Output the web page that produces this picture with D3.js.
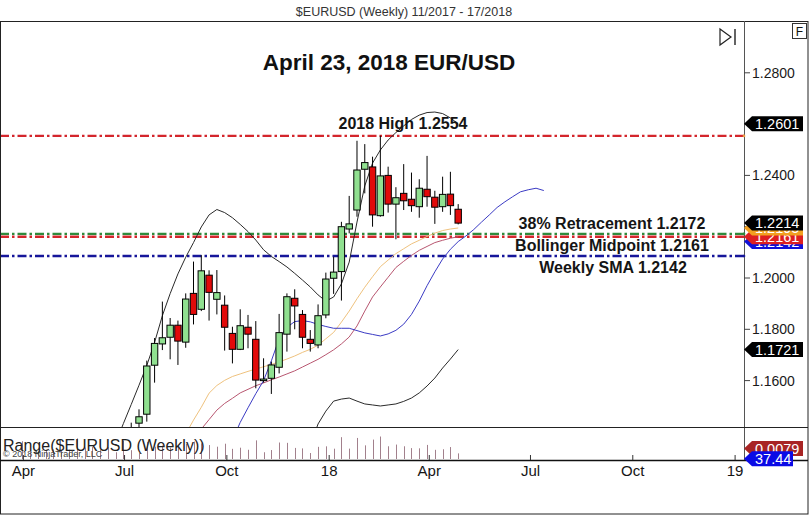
<!DOCTYPE html>
<html><head><meta charset="utf-8">
<script src="https://cdn.jsdelivr.net/npm/d3@7"></script>
<style>
body{margin:0;background:#fff;}
svg{display:block;font-family:"Liberation Sans",Arial,sans-serif;}
</style>
</head><body>
<svg id="c" width="810" height="515"></svg>
<script>
// ---------- DATA ----------
const firstWeek = "2017-07-07";           // week-ending date of the first candle
const opens  = [1.1405,1.1434,1.1469,1.1660,1.1743,1.1769,1.1816,1.1750,1.1940,1.1878,1.2011,1.1917,1.1894,1.1784,1.1722,1.1808,1.1761,1.1600,1.1609,1.1652,1.1781,1.1921,1.1858,1.1761,1.1739,1.1856,1.1999,1.2025,1.2191,1.2265,1.2424,1.2433,1.2243,1.2400,1.2288,1.2330,1.2307,1.2278,1.2346,1.2315,1.2278,1.2327,1.2268];
const highs  = [1.1436,1.1488,1.1678,1.1766,1.1908,1.1844,1.1834,1.1940,1.2064,1.2089,1.2030,1.2031,1.1932,1.1810,1.1878,1.1856,1.1832,1.1687,1.1674,1.1860,1.1940,1.1956,1.1875,1.1797,1.1897,1.2021,1.2083,1.2219,1.2320,1.2535,1.2522,1.2473,1.2555,1.2434,1.2354,1.2444,1.2411,1.2385,1.2476,1.2340,1.2395,1.2414,1.2288];
const lows   = [1.1312,1.1405,1.1440,1.1592,1.1719,1.1683,1.1661,1.1728,1.1819,1.1871,1.1834,1.1858,1.1717,1.1667,1.1719,1.1726,1.1570,1.1592,1.1548,1.1628,1.1713,1.1800,1.1726,1.1713,1.1726,1.1843,1.1938,1.1912,1.2174,1.2239,1.2330,1.2200,1.2239,1.2255,1.2151,1.2265,1.2258,1.2235,1.2278,1.2211,1.2258,1.2246,1.2209];
const closes = [1.1398,1.1459,1.1657,1.1745,1.1767,1.1816,1.1754,1.1918,1.1858,1.2028,1.1944,1.1943,1.1808,1.1722,1.1814,1.1781,1.1602,1.1606,1.1661,1.1787,1.1927,1.1891,1.1769,1.1745,1.1853,1.1996,1.2023,1.2200,1.2211,1.2421,1.2450,1.2246,1.2398,1.2288,1.2313,1.2301,1.2282,1.2350,1.2317,1.2276,1.2326,1.2282,1.2214];

// indicator series (index of first value relative to first candle)
const upperStart = -2;
const upperBand = [1.1357,1.1433,1.1507,1.1582,1.1659,1.1749,1.1853,1.1939,1.2016,1.2081,1.2138,1.2199,1.2246,1.2267,1.2255,1.2235,1.2209,1.2181,1.2148,1.2110,1.2084,1.2064,1.2043,1.2018,1.1992,1.1965,1.1934,1.1910,1.1926,1.1977,1.2062,1.2218,1.2359,1.2448,1.2499,1.2538,1.2567,1.2593,1.2618,1.2635,1.2645,1.2647,1.2641,1.2624,1.2601];
const lowerStart = 23;
const lowerBand = [1.1349,1.1431,1.1481,1.1520,1.1528,1.1532,1.1520,1.1509,1.1505,1.1501,1.1505,1.1509,1.1519,1.1532,1.1552,1.1579,1.1610,1.1649,1.1684,1.1721];
const midStart = 9;
const midBand = [1.1411,1.1448,1.1485,1.1511,1.1531,1.1552,1.1566,1.1580,1.1591,1.1603,1.1614,1.1626,1.1638,1.1653,1.1668,1.1683,1.1701,1.1720,1.1743,1.1770,1.1813,1.1871,1.1926,1.1965,1.2003,1.2041,1.2065,1.2088,1.2108,1.2123,1.2138,1.2147,1.2155,1.2161];
const tanStart = 7;
const tanSma = [1.1392,1.1446,1.1496,1.1551,1.1581,1.1601,1.1616,1.1626,1.1636,1.1645,1.1654,1.1663,1.1673,1.1684,1.1696,1.1710,1.1722,1.1738,1.1763,1.1788,1.1828,1.1871,1.1919,1.1964,1.2005,1.2044,1.2070,1.2095,1.2114,1.2133,1.2147,1.2162,1.2175,1.2185,1.2191,1.2195];
const blueStart = 13;
const blueSma = [1.1368,1.1437,1.1494,1.1549,1.1600,1.1677,1.1763,1.1808,1.1830,1.1834,1.1829,1.1819,1.1811,1.1804,1.1804,1.1804,1.1795,1.1786,1.1780,1.1774,1.1782,1.1796,1.1820,1.1858,1.1910,1.1970,1.2024,1.2074,1.2112,1.2142,1.2164,1.2189,1.2218,1.2246,1.2275,1.2297,1.2317,1.2336,1.2344,1.2350,1.2341];

// weekly range (high-low) of the weeks before the first visible candle
const earlyRangeStart = -14;
const earlyRange = [0.0250,0.0105,0.0110,0.0130,0.0135,0.0125,0.0130,0.0290,0.0160,0.0170,0.0125,0.0165,0.0095,0.0255];

// horizontal levels and annotations
const levelValues = [1.2554, 1.2172, 1.2161, 1.2086];
const levelNames  = ["high", "retr", "boll", "sma"];
const noteTexts   = ["2018 High 1.2554", "38% Retracement 1.2172", "Bollinger Midpoint 1.2161", "Weekly SMA 1.2142"];
const yTicks = [1.16, 1.18, 1.20, 1.22, 1.24, 1.26, 1.28];
const yTickLabels = [1.16, 1.18, 1.20, 1.24, 1.28];   // 1.22 and 1.26 are hidden by price tags
const otherIndicatorLabel = "37.44";
const chartTitle = "$EURUSD (Weekly)  11/2017 - 17/2018";
const mainTitle = "April 23, 2018 EUR/USD";

// ---------- SETUP ----------
const svg = d3.select("#c");
const PR = 744, TOP = 21, MB = 427, LB = 459, AX = 460;
const week0 = d3.utcParse("%Y-%m-%d")(firstWeek);
const wk = i => d3.utcDay.offset(week0, 7 * i);

const x = d3.scaleUtc().domain([new Date(Date.UTC(2017,2,11)), new Date(Date.UTC(2019,0,9))]).range([0, PR]);
const y = d3.scaleLinear().domain([1.16, 1.28]).range([380.6, 72.8]);
const yr = d3.scaleLinear().domain([0, 0.045]).range([LB, 427]);

const defs = svg.append("defs");
defs.append("clipPath").attr("id","mainClip").append("rect").attr("x",1).attr("y",TOP).attr("width",PR-1).attr("height",MB-TOP);

svg.append("rect").attr("width",810).attr("height",515).attr("fill","#fff");

// title
svg.append("text").attr("x",404).attr("y",16).attr("text-anchor","middle")
  .attr("font-size",12.5).attr("fill","#333").text(chartTitle);

const main = svg.append("g").attr("clip-path","url(#mainClip)");

// horizontal levels
const levelColor = {high:"#d4262c", retr:"#2f8a3c", boll:"#d4262c", sma:"#16169a"};
main.selectAll("line.level").data(levelValues).join("line")
  .attr("x1",0).attr("x2",PR).attr("y1",d=>y(d)).attr("y2",d=>y(d))
  .attr("stroke",(d,i)=>levelColor[levelNames[i]]).attr("stroke-width",2.4)
  .attr("stroke-dasharray","9,3,2.5,3");

// indicator lines
function series(vals, start){ return vals.map((v,k)=>({d:wk(start+k), v})); }
const line = d3.line().x(p=>x(p.d)).y(p=>y(p.v));
const indic = [
  {vals:tanSma, start:tanStart, color:"#efc27e"},
  {vals:midBand, start:midStart, color:"#b85670"},
  {vals:blueSma, start:blueStart, color:"#3b3bc4"},
  {vals:upperBand, start:upperStart, color:"#2a2a2a"},
  {vals:lowerBand, start:lowerStart, color:"#2a2a2a"}
];
indic.forEach(s=>{
  main.append("path").attr("d", line(series(s.vals, s.start)))
    .attr("fill","none").attr("stroke",s.color).attr("stroke-width",1);
});

// candles
const candles = opens.map((o,i)=>({d:wk(i), o, h:highs[i], l:lows[i], c:closes[i]}));
const bw = 6.4;
const cg = main.selectAll("g.candle").data(candles).join("g");
cg.append("line").attr("x1",c=>x(c.d)).attr("x2",c=>x(c.d))
  .attr("y1",c=>y(c.h)).attr("y2",c=>y(c.l)).attr("stroke","#000").attr("stroke-width",1);
cg.append("rect").attr("x",c=>x(c.d)-bw/2).attr("width",bw)
  .attr("y",c=>y(Math.max(c.o,c.c))).attr("height",c=>Math.max(1,Math.abs(y(c.o)-y(c.c))))
  .attr("fill",c=>c.c>=c.o?"#90e090":"#e20a0a").attr("stroke","#000").attr("stroke-width",1);

// main title & notes
svg.append("text").attr("x",389).attr("y",70).attr("text-anchor","middle")
  .attr("font-size",22.5).attr("font-weight","bold").attr("fill","#111").text(mainTitle);
const notePos = [
  {x:403, dy:-7},
  {x:612, dy:-5},
  {x:612, dy:14},
  {x:613, dy:17}
];
noteTexts.forEach((t,i)=>{
  svg.append("text").attr("x",notePos[i].x).attr("y",y(levelValues[i])+notePos[i].dy)
    .attr("text-anchor","middle").attr("font-size",16).attr("font-weight","bold")
    .attr("fill","#151515").text(t);
});

// frame
svg.append("rect").attr("x",0.5).attr("y",TOP+0.5).attr("width",807.5).attr("height",492.5)
  .attr("fill","none").attr("stroke","#222").attr("stroke-width",1);
svg.append("line").attr("x1",PR+0.5).attr("x2",PR+0.5).attr("y1",TOP).attr("y2",AX).attr("stroke","#555");
svg.append("line").attr("x1",0).attr("x2",808).attr("y1",MB+0.5).attr("y2",MB+0.5).attr("stroke","#222");
svg.append("line").attr("x1",0).attr("x2",808).attr("y1",AX+0.5).attr("y2",AX+0.5).attr("stroke","#111").attr("stroke-width",1.3);

// right axis ticks
const ya = svg.append("g");
yTicks.forEach(t=>{
  ya.append("line").attr("x1",PR).attr("x2",PR+6).attr("y1",y(t)).attr("y2",y(t)).attr("stroke","#444");
});
yTickLabels.forEach(t=>{
  ya.append("text").attr("x",752).attr("y",y(t)+5).attr("font-size",14).attr("fill","#1a1a1a").text(t.toFixed(4));
});
// level markers on axis
[["#e89a40",0],["#2f8a3c",1],["#16169a",3]].forEach(([col,i])=>{
  svg.append("circle").attr("cx",PR).attr("cy",y(levelValues[i])).attr("r",1.3).attr("fill",col);
});

function tag(yc, txt, fill, right){
  const r = right || 803;
  svg.append("path").attr("d",`M${PR},${yc} L752,${yc-7.5} L${r},${yc-7.5} L${r},${yc+7.5} L752,${yc+7.5} Z`)
    .attr("fill",fill);
  svg.append("text").attr("x",755).attr("y",yc+5.2).attr("font-size",14.5).attr("fill","#fff").text(txt);
}
const last = closes.length-1;
const blueAtLast = blueSma[last - blueStart];
tag(y(blueAtLast), blueAtLast.toFixed(4), "#1010d8");
tag(y(midBand[midBand.length-1]), midBand[midBand.length-1].toFixed(4), "#dd2020");
tag(y(tanSma[tanSma.length-1]), tanSma[tanSma.length-1].toFixed(4), "#f2a020");
tag(y(closes[last]), closes[last].toFixed(4), "#000");
tag(y(upperBand[upperBand.length-1]), upperBand[upperBand.length-1].toFixed(4), "#000");
tag(y(lowerBand[lowerBand.length-1]), lowerBand[lowerBand.length-1].toFixed(4), "#000");

// lower panel: weekly range
const ranges = earlyRange.map((v,k)=>({d:wk(earlyRangeStart+k), v}))
  .concat(candles.map(c=>({d:c.d, v:c.h-c.l})));
svg.append("g").selectAll("line").data(ranges).join("line")
  .attr("x1",r=>Math.round(x(r.d))+0.5).attr("x2",r=>Math.round(x(r.d))+0.5)
  .attr("y1",LB).attr("y2",r=>yr(r.v)).attr("stroke","#a2808c").attr("stroke-width",1);
svg.append("text").attr("x",3).attr("y",451).attr("font-size",16).attr("fill","#222").text("Range($EURUSD (Weekly))");
svg.append("text").attr("x",3).attr("y",456.5).attr("font-size",9).attr("fill","#444").text("© 2018 NinjaTrader, LLC");
const lastRange = ranges[ranges.length-1].v;
tag(Math.min(yr(lastRange), 448.5), lastRange.toFixed(4), "#a82424");
tag(458.7, otherIndicatorLabel, "#0a0ae6", 793);

// x axis
const xt = d3.utcMonth.every(3).range(new Date(Date.UTC(2017,3,1)), new Date(Date.UTC(2019,0,2)));
const fmt = d=> d.getUTCMonth()===0 ? d3.utcFormat("%y")(d) : d3.utcFormat("%b")(d);
xt.forEach(t=>{
  svg.append("line").attr("x1",x(t)).attr("x2",x(t)).attr("y1",455).attr("y2",AX).attr("stroke","#333");
  svg.append("text").attr("x",x(t)).attr("y",476).attr("text-anchor","middle").attr("font-size",15)
    .attr("fill","#151515").text(fmt(t));
});

// corner controls
svg.append("rect").attr("x",792.5).attr("y",23.5).attr("width",14).attr("height",15)
  .attr("fill","#fff").attr("stroke","#333");
svg.append("text").attr("x",799.5).attr("y",35.5).attr("text-anchor","middle").attr("font-size",12).attr("fill","#111").text("F");
svg.append("path").attr("d","M720,29 L731,37 L720,45 Z").attr("fill","none").attr("stroke","#222").attr("stroke-width",1.2);
svg.append("line").attr("x1",735).attr("x2",735).attr("y1",29).attr("y2",45).attr("stroke","#222").attr("stroke-width",1.4);
</script>
</body></html>
